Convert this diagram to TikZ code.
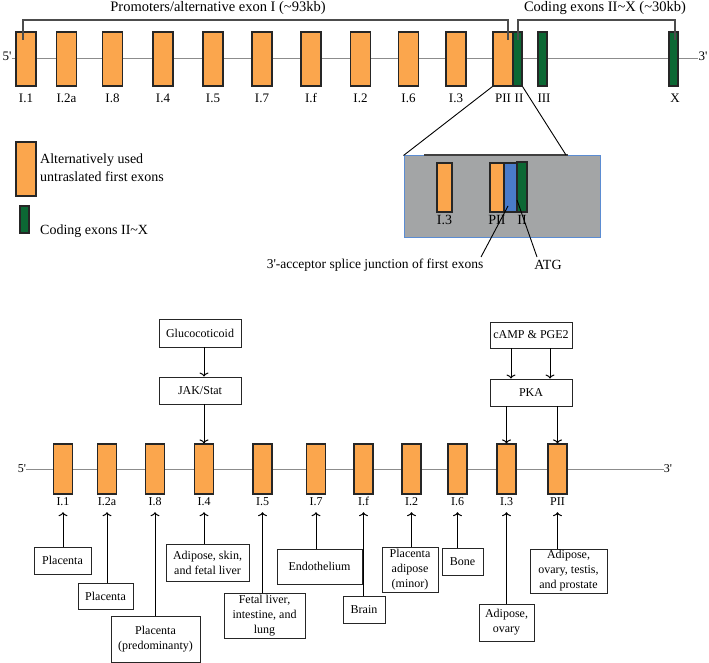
\documentclass[tikz,border=0pt]{standalone}
\usepackage{fontspec}
\setmainfont{Liberation Serif}
\usetikzlibrary{positioning,arrows.meta}
\definecolor{exono}{HTML}{FBA64D}
\definecolor{exong}{HTML}{0C6834}
\definecolor{insg}{HTML}{A3A5A6}
\definecolor{insb}{HTML}{5B8CD2}
\definecolor{junb}{HTML}{4A7BC9}
\begin{document}
\begin{tikzpicture}[x=1pt,y=-1pt,>={To[length=4pt,width=9pt]},
  first/.style={draw=black!85,line width=1.1pt,fill=exono,minimum width=20,minimum height=54,inner sep=0},
  code/.style={first,fill=exong,minimum width=9},
  lbl/.style={inner sep=0,text height=8,text depth=2,font=\fontsize{13}{14}\selectfont},
  box/.style={draw=black!85,line width=.9pt,align=center,inner sep=0,font=\fontsize{12}{15}\selectfont},
  dna/.style={black!45,line width=.8pt},
  brk/.style={black!70,line width=1.1pt},
  arr/.style={->,line width=1pt}]
  \useasboundingbox (0,0) rectangle (709,663);
  \node[lbl] (f5) at (7,58) {5\textquotesingle};
  \node[lbl] (f3) at (703,58) {3\textquotesingle};
  \draw[dna] (f5.east) -- (f3.west);
  \foreach \n/\x/\l in {1/26/I.1,2/66.5/I.2a,3/112.5/I.8,4/163/I.4,5/213/I.5,6/262/I.7,
    7/311/I.f,8/360.5/I.2,9/408.5/I.6,10/456/I.3,11/503/PII}{
    \node[first] (t\n) at (\x,59) {};
    \node[lbl] at (\x,99.5) {\l};}
  \foreach \n/\x/\l in {1/517.5/II,2/542.5/III,3/673.5/X}{
    \node[code] (c\n) at (\x,59) {};
    \node[lbl] at (\x+1.5,99.5) {\l};}
  \draw[brk] (23,40) -- (23,20) -- (508,20) -- (508,40);
  \draw[brk] (518,40) -- (518,20) -- (675,20) -- (675,40);
  \node[font=\fontsize{14.5}{16}\selectfont] at (218,8) {Promoters/alternative exon I (\textasciitilde 93kb)};
  \node[font=\fontsize{14.5}{16}\selectfont] at (605,8) {Coding exons II\textasciitilde X (\textasciitilde 30kb)};
  \node[first] (lo) at (26,169) {};
  \node[code,minimum height=27] (lg) at (24.5,219.5) {};
  \node[anchor=west,align=left,inner sep=0,font=\fontsize{14}{18}\selectfont] at (40,168) {Alternatively used\\untraslated first exons};
  \node[anchor=west,inner sep=0,font=\fontsize{14}{18}\selectfont] at (40,231) {Coding exons II\textasciitilde X};
  \node[draw=insb,fill=insg,line width=1pt,minimum width=196,minimum height=81,inner sep=0] (ins) at (502,196.5) {};
  \draw[black!75,line width=1.5pt] (424,155) -- (568,155);
  \coordinate (zr) at (566,155);
  \draw[line width=.9pt] (t11.south west) -- (ins.north west);
  \draw[line width=.9pt] (c1.south east) -- (zr);
  \node[first,minimum width=15,minimum height=49] (i1) at (444.5,187.5) {};
  \node[first,minimum width=14,minimum height=49] (i2) at (497,187.5) {};
  \node[first,fill=junb,minimum width=13,minimum height=49] (i3) at (510.5,187.5) {};
  \node[code,minimum width=10,minimum height=50] (i4) at (522,187) {};
  \node[lbl,font=\fontsize{14}{15}\selectfont] at (444.5,222) {I.3};
  \node[lbl,font=\fontsize{14}{15}\selectfont] at (497,222) {PII};
  \node[lbl,font=\fontsize{14}{15}\selectfont] at (522,222) {II};
  \node[font=\fontsize{13.5}{15}\selectfont,inner sep=0] (sj) at (375,265) {3\textquotesingle-acceptor splice junction of first exons};
  \node[font=\fontsize{14}{15}\selectfont,inner sep=0] (atg) at (548,265) {ATG};
  \coordinate (j0) at (508,206);
  \coordinate (j1) at (481,257);
  \coordinate (a0) at (517,200);
  \coordinate (a1) at (537,257);
  \draw[line width=.9pt] (j0) -- (j1);
  \draw[line width=.9pt] (a0) -- (a1);
  \node[lbl,font=\fontsize{12}{13}\selectfont] (h5) at (22,469) {5\textquotesingle};
  \node[lbl,font=\fontsize{12}{13}\selectfont] (h3) at (668,469) {3\textquotesingle};
  \draw[dna] (h5.east) -- (h3.west);
  \foreach \n/\x/\l in {1/63/I.1,2/107/I.2a,3/155/I.8,4/204/I.4,5/262.5/I.5,6/316/I.7,
    7/363.5/I.f,8/411.5/I.2,9/457.5/I.6,10/506.5/I.3,11/557.5/PII}{
    \node[first,minimum width=19,minimum height=50] (b\n) at (\x,469) {};
    \node[lbl,font=\fontsize{12}{13}\selectfont] (l\n) at (\x,502) {\l};}
  \node[box,minimum width=82,minimum height=28] (gc) at (200,333) {Glucocoticoid};
  \node[box,minimum width=82,minimum height=27] (js) at (200,390.5) {JAK/Stat};
  \node[box,minimum width=82,minimum height=26] (cp) at (531,335) {cAMP \& PGE2};
  \node[box,minimum width=82,minimum height=27] (pka) at (531,392.5) {PKA};
  \draw[arr] (gc.south -| b4) -- (js.north -| b4);
  \draw[arr] (js.south -| b4) -- (b4.north);
  \draw[arr] ([xshift=-20]cp.south) -- ([xshift=-20]pka.north);
  \draw[arr] ([xshift=19]cp.south) -- ([xshift=19]pka.north);
  \draw[arr] (pka.south -| b10) -- (b10.north);
  \draw[arr] (pka.south -| b11) -- (b11.north);
  \foreach \n/\x/\y/\w/\h/\t in {1/62.5/560.5/57/27/{Placenta},2/105.5/596/55/26/{Placenta},
    3/155.5/639.5/89/46/{Placenta\\(predominanty)},4/207.5/562.5/83/37/{Adipose, skin,\\and fetal liver},
    5/264.5/615.5/81/45/{Fetal liver,\\intestine, and\\lung},6/319.5/566.5/85/35/{Endothelium},
    7/364/609.5/42/27/{Brain},8/410/569.5/56/45/{Placenta\\adipose\\(minor)},
    9/462.5/561.5/41/27/{Bone},10/506.5/622.5/55/37/{Adipose,\\ovary},
    11/568.5/571/77/44/{Adipose,\\ovary, testis,\\and prostate}}{
    \node[box,minimum width=\w,minimum height=\h] (p\n) at (\x,\y) {\t};
    \draw[arr,shorten >=5pt] (p\n.north -| l\n) -- (l\n.south);}
\end{tikzpicture}
\end{document}
